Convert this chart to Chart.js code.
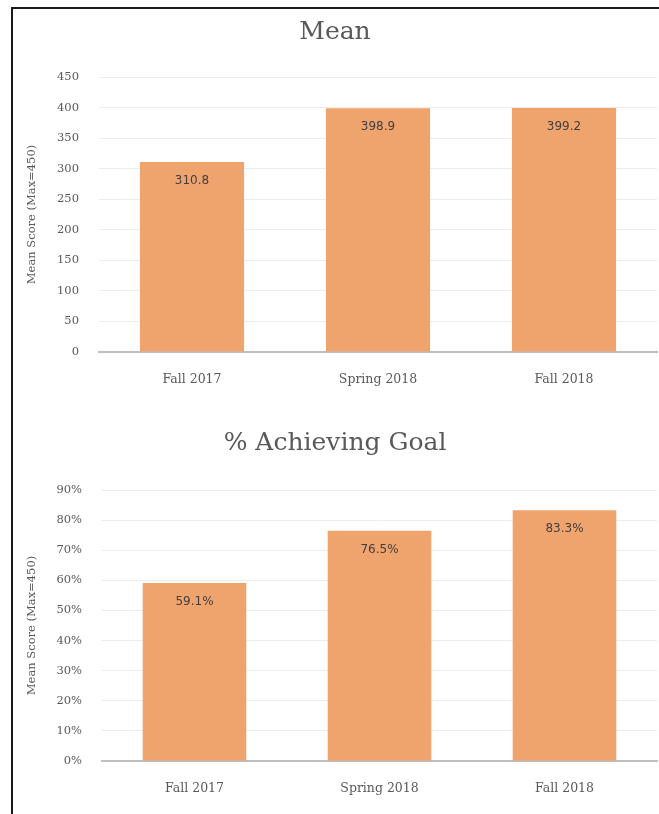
<!DOCTYPE html>
<html><head><meta charset="utf-8">
<script src="https://cdn.jsdelivr.net/npm/chart.js@4"></script>
<style>
html,body{margin:0;padding:0;background:#fff;width:659px;height:814px;overflow:hidden;}
#frame{position:absolute;left:11px;top:7px;width:660px;height:820px;border-left:2px solid #1a1a1a;border-top:2px solid #1a1a1a;}
.c{position:absolute;left:13px;}
</style></head><body>
<div id="frame"></div>
<canvas id="c1" class="c" style="top:9px" width="646" height="400"></canvas>
<canvas id="c2" class="c" style="top:410px" width="646" height="404"></canvas>
<script>
const categories = ['Fall 2017', 'Spring 2018', 'Fall 2018'];
const meanScores = [310.8, 398.9, 399.2];
const pctAchieving = [59.1, 76.5, 83.3];
const meanTicks = {min: 0, max: 450, step: 50};
const pctTicks = {min: 0, max: 90, step: 10};
const yTitle = 'Mean Score (Max=450)';

const barColor = '#F0A46D';
const txt = '#595959';

const labelPlugin = {
  id: 'inlabels',
  afterDatasetsDraw(chart, args, opts) {
    const ctx = chart.ctx;
    const meta = chart.getDatasetMeta(0);
    ctx.save();
    ctx.font = '12px "DejaVu Sans"';
    ctx.fillStyle = '#404040';
    ctx.textAlign = 'center';
    ctx.textBaseline = 'middle';
    meta.data.forEach((bar, i) => {
      const v = chart.data.datasets[0].data[i];
      ctx.fillText(opts.fmt(v), bar.x, bar.y + 19);
    });
    ctx.restore();
  }
};

function makeChart(id, title, data, tk, fmtTick, fmtLabel, titlePad, yW, xH) {
  return new Chart(document.getElementById(id), {
    type: 'bar',
    data: { labels: categories, datasets: [{ data: data, backgroundColor: barColor, borderWidth: 0, barPercentage: 0.56, categoryPercentage: 1 }] },
    options: {
      responsive: false, animation: false,
      layout: { padding: { left: 0, right: 2, top: 0, bottom: 0 } },
      plugins: {
        legend: { display: false }, tooltip: { enabled: false },
        title: { display: true, text: title, color: txt, font: { family: '"DejaVu Serif"', size: 25, weight: 'normal' }, padding: titlePad },
        inlabels: { fmt: fmtLabel }
      },
      scales: {
        x: {
          grid: { display: false },
          border: { color: '#bfbfbf', width: 2 },
          ticks: { color: txt, font: { family: '"DejaVu Serif"', size: 12.5 }, padding: 12 },
          afterFit(s) { s.height = xH; }
        },
        y: {
          min: tk.min, max: tk.max,
          grid: { color: '#ececec', drawTicks: false },
          border: { display: false },
          ticks: { stepSize: tk.step, color: txt, font: { family: '"DejaVu Serif"', size: 11.5 }, padding: 20, callback: fmtTick },
          title: { display: true, text: yTitle, color: txt, font: { family: '"DejaVu Serif"', size: 11.5 }, padding: { top: 12, bottom: 0 } },
          afterFit(s) { s.width = yW; }
        }
      }
    },
    plugins: [labelPlugin]
  });
}

makeChart('c1', 'Mean', meanScores, meanTicks, v => v, v => v.toFixed(1), { top: 8, bottom: 30 }, 86, 57);
makeChart('c2', '% Achieving Goal', pctAchieving, pctTicks, v => v + '%', v => v.toFixed(1) + '%', { top: 18, bottom: 32 }, 89, 53);
</script>
</body></html>
